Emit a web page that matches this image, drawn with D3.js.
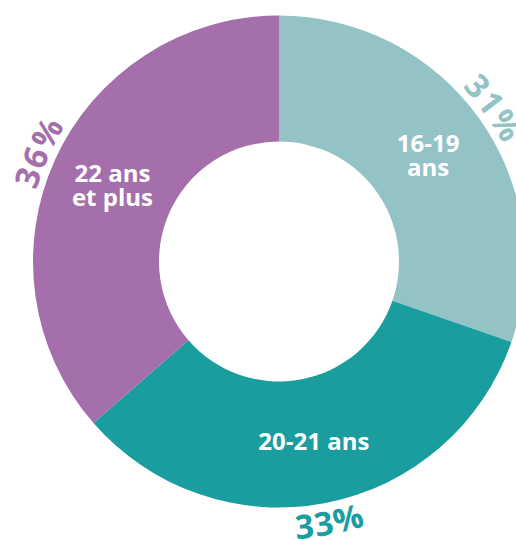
<!DOCTYPE html>
<html>
<head>
<meta charset="utf-8">
<script src="https://d3js.org/d3.v7.min.js"></script>
<style>
  body { margin: 0; background: #fff; }
  .sliceText { font-family: "Open Sans", sans-serif; font-weight: 700; font-size: 24px; fill: #fff; text-anchor: middle; }
  .pctText { font-family: "Open Sans", sans-serif; font-weight: 700; font-size: 33px; letter-spacing: 1.5px; }
</style>
</head>
<body>
<div id="chart"></div>
<script>
// data
var categories = ["16-19 ans", "20-21 ans", "22 ans et plus"];
var labelLines = [["16-19", "ans"], ["20-21 ans"], ["22 ans", "et plus"]];
var values = [30.3, 33.3, 36.4];
var pctLabels = ["31%", "33%", "36%"];
var colors = ["#94c3c6", "#199d9f", "#a56fab"];

//svg parameters
var svgWidth = 516;
var svgHeight = 539;
var cx = 279;
var cy = 261.5;
var outerR = 246;
var innerR = 120;

var svg = d3.select("#chart")
    .append("svg")
    .attr("width", svgWidth)
    .attr("height", svgHeight);

var group = svg.append("g")
    .attr("transform", `translate(${cx}, ${cy})`);

var pie = d3.pie().sort(null).value(d => d);
var arcs = pie(values);

var arc = d3.arc().innerRadius(innerR).outerRadius(outerR);

//slices
group.selectAll(".slice")
    .data(arcs)
    .enter()
    .append("path")
    .attr("class", "slice")
    .attr("d", arc)
    .attr("fill", (d, i) => colors[i]);

//labels inside the ring
arcs.forEach(function(d, i) {
    var c = arc.centroid(d);
    var lines = labelLines[i];
    var first = lines.length > 1 ? c[1] - 3.25 : c[1] + 8.5;
    var t = group.append("text")
        .attr("class", "sliceText")
        .attr("x", c[0])
        .attr("y", first);
    lines.forEach(function(line, j) {
        t.append("tspan")
            .attr("x", c[0])
            .attr("y", first + j * 23.5)
            .text(line);
    });
});

//curved percentage labels outside the ring
var span = Math.PI / 3;
arcs.forEach(function(d, i) {
    var mid = (d.startAngle + d.endAngle) / 2;
    var m = mid - Math.PI / 2;
    // the bottom label is read upright, so its path runs anticlockwise
    var bottom = Math.cos(mid) < -0.5;
    var p = d3.path();
    if (bottom) {
        p.arc(0, 0, 278, m + span, m - span, true);
    } else {
        p.arc(0, 0, 253, m - span, m + span, false);
    }
    group.append("path")
        .attr("id", "pctPath" + i)
        .attr("d", p.toString())
        .attr("fill", "none");
    group.append("text")
        .attr("class", "pctText")
        .attr("fill", colors[i])
        .append("textPath")
        .attr("href", "#pctPath" + i)
        .attr("startOffset", "50%")
        .attr("text-anchor", "middle")
        .text(pctLabels[i]);
});
</script>
</body>
</html>
